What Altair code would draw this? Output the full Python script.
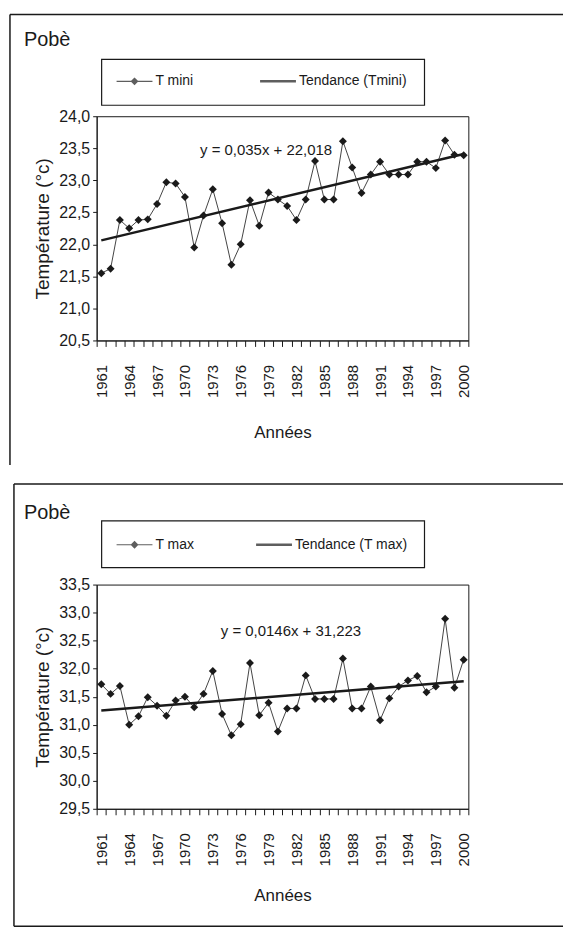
import altair as alt
import pandas as pd

# ---------------- data ----------------
years = list(range(1961, 2001))
tmin = [21.55, 21.62, 22.38, 22.25, 22.38, 22.39, 22.63, 22.97, 22.95, 22.74,
        21.95, 22.45, 22.86, 22.33, 21.68, 22.00, 22.69, 22.29, 22.81, 22.70,
        22.60, 22.38, 22.70, 23.30, 22.70, 22.70, 23.61, 23.20, 22.80, 23.09,
        23.29, 23.09, 23.09, 23.09, 23.29, 23.29, 23.19, 23.62, 23.40, 23.39]
tmax = [31.72, 31.55, 31.69, 31.00, 31.15, 31.49, 31.34, 31.16, 31.43, 31.50,
        31.31, 31.55, 31.96, 31.19, 30.81, 31.01, 32.10, 31.17, 31.39, 30.88,
        31.29, 31.29, 31.88, 31.46, 31.46, 31.46, 32.18, 31.29, 31.29, 31.68,
        31.08, 31.47, 31.68, 31.79, 31.87, 31.58, 31.68, 32.89, 31.66, 32.16]
station = "Pobè"
series_min = ["T mini", "Tendance (Tmini)"]
series_max = ["T max", "Tendance (T max)"]
eq_min = "y = 0,035x + 22,018"
eq_max = "y = 0,0146x + 31,223"
yticks_min = [20.5, 21.0, 21.5, 22.0, 22.5, 23.0, 23.5, 24.0]
yticks_max = [29.5, 30.0, 30.5, 31.0, 31.5, 32.0, 32.5, 33.0, 33.5]
x_title = "Années"
y_title = "Température (°c)"

FONT = "Liberation Sans"
INK = "#1a1a1a"

LINE_PATH = "M-1,-0.03L1,-0.03L1,0.03L-1,0.03Z M-0.22,0L0,-0.22L0.22,0L0,0.22Z"
TREND_PATH = "M-1,-0.07L1,-0.07L1,0.07L-1,0.07Z"

W, H = 373, 225


def panel(values, series, eq, yticks, fr_left, fr_top, fr_bottom, title_y,
          legend_y, box_top, box_bottom, eq_x, eq_y, xtitle_y, colpad):
    df = pd.DataFrame({"year": years, "temp": values})
    deco = pd.DataFrame({"k": [0]})
    base = alt.Chart(df)

    x = alt.X(
        "year:O",
        scale=alt.Scale(type="band", paddingInner=0, paddingOuter=0),
        axis=alt.Axis(
            title=x_title, titleFont=FONT, titleFontSize=17, titleFontWeight="normal",
            titleColor=INK, titleX=W / 2, titleY=xtitle_y, titleBaseline="middle",
            titleAlign="center",
            labelAngle=270, labelAlign="right", labelBaseline="middle",
            labelFont=FONT, labelFontSize=15, labelColor=INK, labelPadding=18,
            labelOverlap=False,
            labelExpr="(datum.value - 1961) % 3 == 0 ? datum.label : ''",
            tickBand="extent", tickSize=6, tickColor=INK, domainColor=INK, grid=False,
        ),
    )
    y = alt.Y(
        "temp:Q",
        scale=alt.Scale(domain=[yticks[0], yticks[-1]], nice=False, zero=False),
        axis=alt.Axis(
            title=y_title, values=yticks,
            labelExpr="replace(format(datum.value, '.1f'), '.', ',')",
            labelFont=FONT, labelFontSize=16, labelColor=INK, labelPadding=3,
            tickSize=4, tickColor=INK, domainColor=INK, grid=False,
            titleFont=FONT, titleFontSize=19, titleFontWeight="normal", titleColor=INK,
            titleX=-54, titleY=H / 2, titleAngle=270, titleBaseline="middle",
            titleAlign="center",
        ),
    )

    line = base.mark_line(color="#444", strokeWidth=1).encode(x=x, y=y)
    pts = base.mark_point(shape="diamond", filled=True, color=INK, size=64,
                          opacity=1).encode(x=x, y=y)
    trend = (base.transform_regression("year", "temp")
             .mark_line(color=INK, strokeWidth=2.5).encode(x=x, y=y))

    frame_top = alt.Chart(deco).mark_rule(color=INK, strokeWidth=1.5).encode(
        x=alt.value(fr_left), x2=alt.value(468), y=alt.value(fr_top))
    frame_left = alt.Chart(deco).mark_rule(color=INK, strokeWidth=1.5).encode(
        x=alt.value(fr_left), y=alt.value(fr_top), y2=alt.value(fr_bottom))
    layers = [frame_top, frame_left]
    if fr_bottom < 344:
        layers.append(alt.Chart(deco).mark_rule(color=INK, strokeWidth=1.5).encode(
            x=alt.value(fr_left), x2=alt.value(468), y=alt.value(fr_bottom)))

    box = alt.Chart(deco).mark_rect(fill="white", stroke=INK, strokeWidth=1.2).encode(
        x=alt.value(5), x2=alt.value(329), y=alt.value(box_top), y2=alt.value(box_bottom))
    title = alt.Chart(deco).mark_text(align="left", baseline="alphabetic", font=FONT,
                                      fontSize=20, color=INK).encode(
        x=alt.value(-73), y=alt.value(title_y), text=alt.value(station))
    eqt = alt.Chart(deco).mark_text(align="center", baseline="middle", font=FONT,
                                    fontSize=15, color=INK).encode(
        x=alt.value(eq_x), y=alt.value(eq_y), text=alt.value(eq))

    leg = (alt.Chart(pd.DataFrame({"series": series}))
           .transform_filter("false")
           .mark_point(filled=True, color=INK)
           .encode(shape=alt.Shape(
               "series:N",
               scale=alt.Scale(domain=series, range=[LINE_PATH, TREND_PATH]),
               legend=alt.Legend(
                   title=None, orient="none", legendX=20, legendY=legend_y,
                   direction="horizontal", symbolSize=1296, labelFont=FONT,
                   labelFontSize=14, labelColor=INK, labelOffset=3,
                   columnPadding=colpad, padding=0, symbolFillColor=INK,
                   symbolStrokeWidth=0,
               ))))

    return alt.layer(*layers, box, title, eqt, line, pts, trend, leg).properties(
        width=W, height=H)


top = panel(tmin, series_min, eq_min, yticks_min, fr_left=-87, fr_top=-102,
            fr_bottom=350, title_y=-70, legend_y=-53, box_top=-57, box_bottom=-11,
            eq_x=170, eq_y=34, xtitle_y=92, colpad=66)
bottom = panel(tmax, series_max, eq_max, yticks_max, fr_left=-83, fr_top=-101,
               fr_bottom=343, title_y=-66, legend_y=-58, box_top=-64, box_bottom=-17,
               eq_x=195, eq_y=47, xtitle_y=87, colpad=62)

chart = (alt.vconcat(top, bottom, spacing=15)
         .resolve_scale(x="independent", y="independent", shape="independent")
         .resolve_legend(shape="independent")
         .properties(padding={"left": 8, "top": 11, "right": 0, "bottom": 0},
                     background="white")
         .configure_view(stroke=INK, strokeWidth=1))

chart.save("out.html", embed_options={"renderer": "svg", "actions": False})
